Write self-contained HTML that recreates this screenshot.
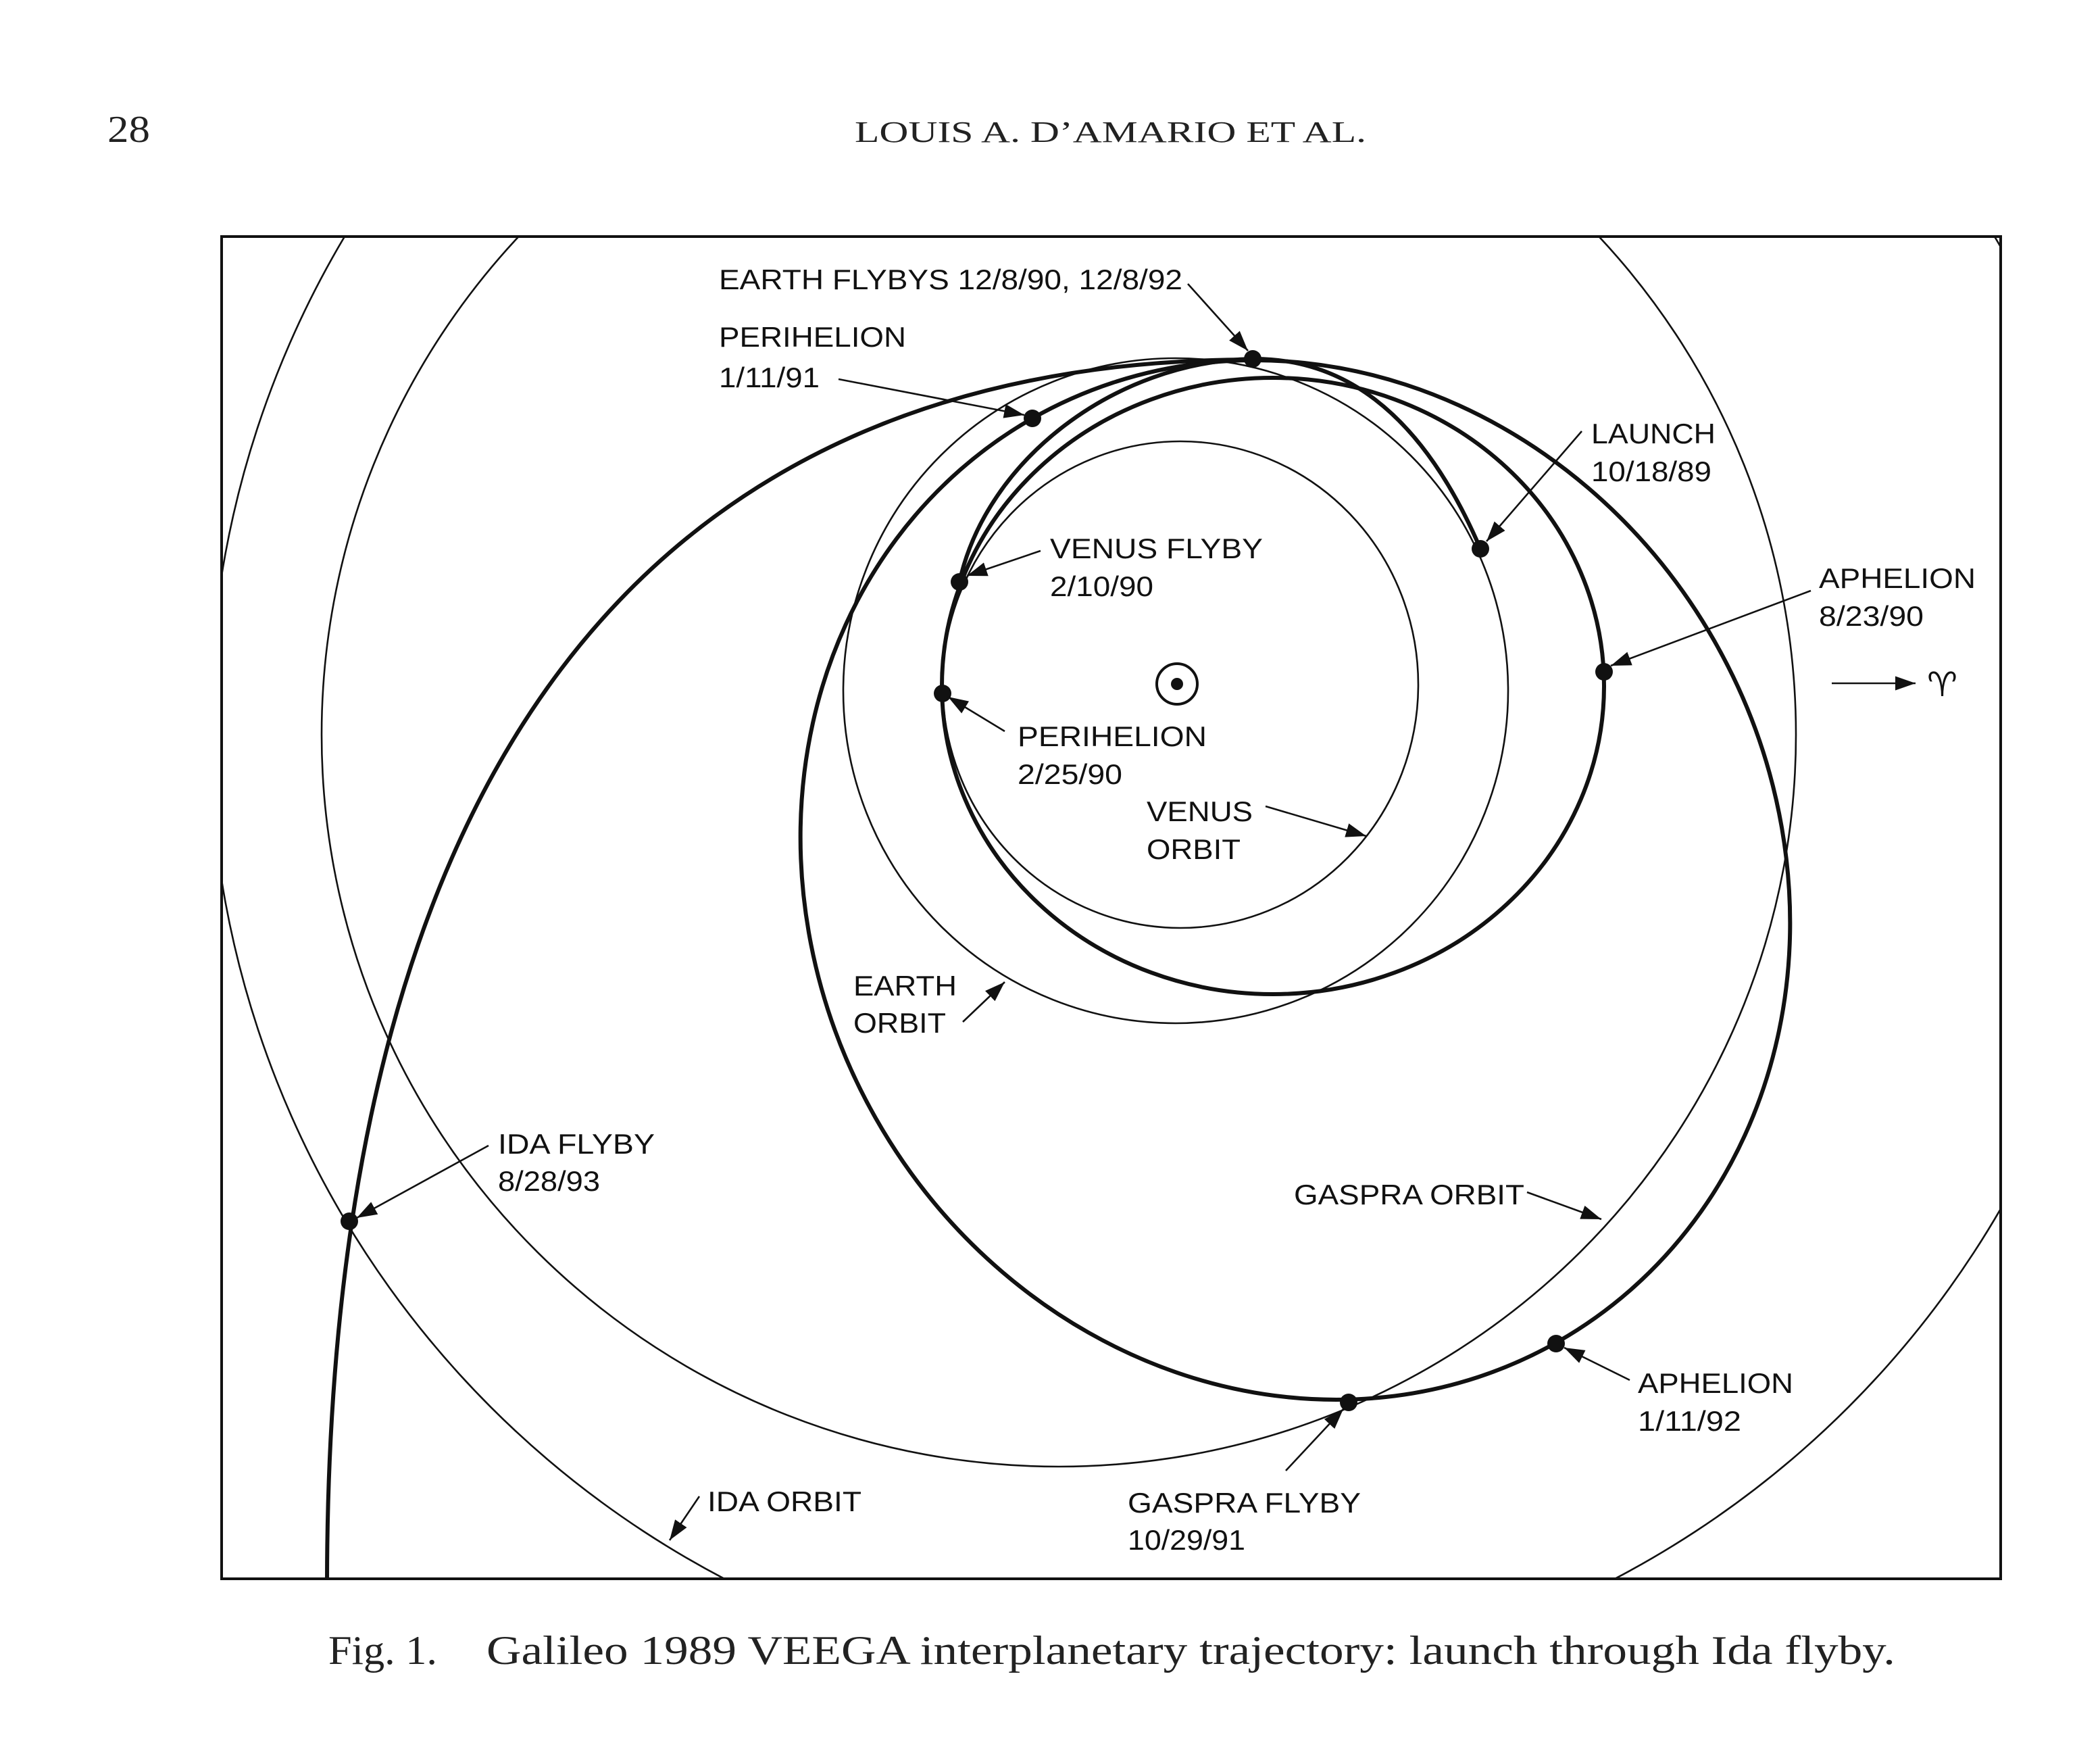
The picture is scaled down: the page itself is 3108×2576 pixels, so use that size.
<!DOCTYPE html>
<html><head><meta charset="utf-8"><style>
html,body{margin:0;padding:0;background:#fff}
svg{display:block}
.l{font-family:"Liberation Sans",Arial,sans-serif;font-size:42px;fill:#111}
.s{font-family:"Liberation Serif","Times New Roman",serif;fill:#222}
</style></head><body>
<svg width="3108" height="2576" viewBox="0 0 3108 2576" xmlns="http://www.w3.org/2000/svg">
<defs>
<marker id="a" viewBox="0 0 10 10" refX="10" refY="5" markerWidth="30" markerHeight="30" markerUnits="userSpaceOnUse" orient="auto">
<path d="M0,1.5 L10,5 L0,8.5 z" fill="#111"/>
</marker>
<clipPath id="c"><rect x="328" y="350" width="2633" height="1986"/></clipPath>
</defs>
<rect width="3108" height="2576" fill="#fff"/>
<text class="s" x="159" y="210" font-size="56" textLength="63" lengthAdjust="spacingAndGlyphs">28</text>
<text class="s" x="1265" y="210" font-size="44" textLength="757" lengthAdjust="spacingAndGlyphs">LOUIS A. D’AMARIO ET AL.</text>

<g clip-path="url(#c)" fill="none" stroke="#111">
<circle cx="1731" cy="1077" r="1421" stroke-width="2.6"/>
<ellipse cx="1567" cy="1087" rx="1091" ry="1083" stroke-width="2.6"/>
<circle cx="1740" cy="1022" r="492" stroke-width="2.6"/>
<ellipse cx="1747" cy="1013" rx="352" ry="360" stroke-width="2.6"/>
<ellipse cx="1884" cy="1015" rx="490" ry="456" stroke-width="6"/>
<ellipse cx="1917" cy="1302" rx="786" ry="714" transform="rotate(60.3 1917 1302)" stroke-width="6"/>
<path d="M2191,812 C2100,600 1980,530 1854,531 C1650,535 1460,680 1420,861" stroke-width="6"/>
<path d="M484,2345 C484,1150 950,532 1855,532" stroke-width="6"/>
</g>
<rect x="328" y="350" width="2633" height="1986" fill="none" stroke="#111" stroke-width="4"/>

<circle cx="1742" cy="1012" r="30" fill="none" stroke="#111" stroke-width="4"/>
<circle cx="1742" cy="1012" r="9" fill="#111"/>

<g fill="#111">
<circle cx="1854" cy="531" r="13"/>
<circle cx="1528" cy="619" r="13"/>
<circle cx="2191" cy="812" r="13"/>
<circle cx="1420" cy="861" r="13"/>
<circle cx="1395" cy="1026" r="13"/>
<circle cx="2374" cy="994" r="13"/>
<circle cx="1996" cy="2075" r="13"/>
<circle cx="2303" cy="1988" r="13"/>
<circle cx="517" cy="1807" r="13"/>
</g>

<g stroke="#111" stroke-width="2.6" fill="none" marker-end="url(#a)">
<line x1="1758" y1="420" x2="1847" y2="519"/>
<line x1="1241" y1="561" x2="1516" y2="614"/>
<line x1="2341" y1="638" x2="2200" y2="801"/>
<line x1="1540" y1="815" x2="1431" y2="852"/>
<line x1="2680" y1="874" x2="2384" y2="985"/>
<line x1="1487" y1="1082" x2="1403" y2="1031"/>
<line x1="1873" y1="1193" x2="2022" y2="1237"/>
<line x1="1425" y1="1512" x2="1487" y2="1453"/>
<line x1="723" y1="1695" x2="528" y2="1802"/>
<line x1="2260" y1="1764" x2="2370" y2="1804"/>
<line x1="2412" y1="2042" x2="2315" y2="1994"/>
<line x1="1035" y1="2214" x2="991" y2="2279"/>
<line x1="1903" y1="2176" x2="1988" y2="2085"/>
<line x1="2711" y1="1011" x2="2835" y2="1011"/>
</g>
<text x="2852" y="1030" font-family="DejaVu Sans" font-size="50" fill="#111">&#x2648;&#xFE0E;</text>

<g class="l">
<text x="1064" y="428" textLength="686" lengthAdjust="spacingAndGlyphs">EARTH FLYBYS 12/8/90, 12/8/92</text>
<text x="1064" y="513" textLength="277" lengthAdjust="spacingAndGlyphs">PERIHELION</text>
<text x="1064" y="573" textLength="149" lengthAdjust="spacingAndGlyphs">1/11/91</text>
<text x="2355" y="656" textLength="184" lengthAdjust="spacingAndGlyphs">LAUNCH</text>
<text x="2355" y="712" textLength="178" lengthAdjust="spacingAndGlyphs">10/18/89</text>
<text x="1554" y="826" textLength="315" lengthAdjust="spacingAndGlyphs">VENUS FLYBY</text>
<text x="1554" y="882" textLength="153" lengthAdjust="spacingAndGlyphs">2/10/90</text>
<text x="2692" y="870" textLength="232" lengthAdjust="spacingAndGlyphs">APHELION</text>
<text x="2692" y="926" textLength="155" lengthAdjust="spacingAndGlyphs">8/23/90</text>
<text x="1506" y="1104" textLength="280" lengthAdjust="spacingAndGlyphs">PERIHELION</text>
<text x="1506" y="1160" textLength="155" lengthAdjust="spacingAndGlyphs">2/25/90</text>
<text x="1697" y="1215" textLength="157" lengthAdjust="spacingAndGlyphs">VENUS</text>
<text x="1697" y="1271" textLength="139" lengthAdjust="spacingAndGlyphs">ORBIT</text>
<text x="1263" y="1473" textLength="153" lengthAdjust="spacingAndGlyphs">EARTH</text>
<text x="1263" y="1528" textLength="137" lengthAdjust="spacingAndGlyphs">ORBIT</text>
<text x="737" y="1707" textLength="232" lengthAdjust="spacingAndGlyphs">IDA FLYBY</text>
<text x="737" y="1762" textLength="151" lengthAdjust="spacingAndGlyphs">8/28/93</text>
<text x="1915" y="1782" textLength="341" lengthAdjust="spacingAndGlyphs">GASPRA ORBIT</text>
<text x="2424" y="2061" textLength="230" lengthAdjust="spacingAndGlyphs">APHELION</text>
<text x="2424" y="2117" textLength="153" lengthAdjust="spacingAndGlyphs">1/11/92</text>
<text x="1047" y="2236" textLength="228" lengthAdjust="spacingAndGlyphs">IDA ORBIT</text>
<text x="1669" y="2238" textLength="345" lengthAdjust="spacingAndGlyphs">GASPRA FLYBY</text>
<text x="1669" y="2293" textLength="174" lengthAdjust="spacingAndGlyphs">10/29/91</text>
</g>

<text class="s" x="486" y="2462" font-size="60" textLength="161" lengthAdjust="spacingAndGlyphs">Fig. 1.</text>
<text class="s" x="720" y="2462" font-size="60" textLength="2085" lengthAdjust="spacingAndGlyphs">Galileo 1989 VEEGA interplanetary trajectory: launch through Ida flyby.</text>
</svg>
</body></html>
